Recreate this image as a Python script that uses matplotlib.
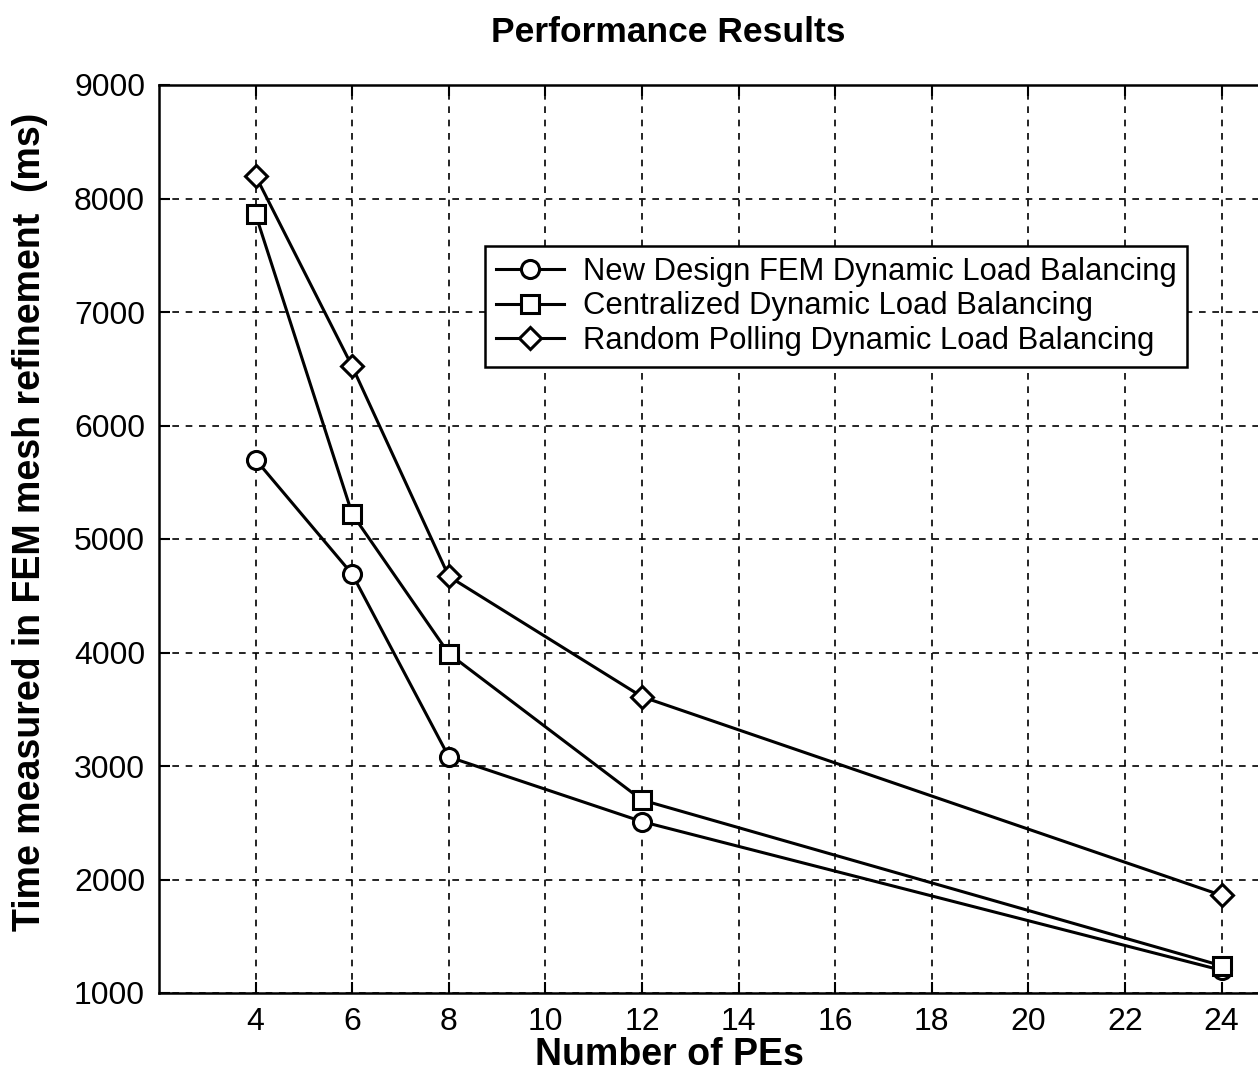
import matplotlib
matplotlib.use("Agg")
import matplotlib.pyplot as plt

pes = [4, 6, 8, 12, 24]
new_design = [5700, 4690, 3080, 2510, 1200]
centralized = [7860, 5220, 3990, 2700, 1240]
random_polling = [8200, 6520, 4670, 3610, 1860]
labels = ["New Design FEM Dynamic Load Balancing",
          "Centralized Dynamic Load Balancing",
          "Random Polling Dynamic Load Balancing"]
xticks = [4, 6, 8, 10, 12, 14, 16, 18, 20, 22, 24]
yticks = [1000, 2000, 3000, 4000, 5000, 6000, 7000, 8000, 9000]

plt.rcParams['font.family'] = ['Liberation Sans', 'DejaVu Sans']

fig = plt.figure(figsize=(12.58, 10.74), dpi=100)
ax = fig.add_axes([159/1258, 81/1074, 1111/1258, 908/1074])

ms = 13
ax.plot(pes, new_design, '-o', color='black', lw=2.2, ms=ms, mfc='white', mew=2.2, label=labels[0])
ax.plot(pes, centralized, '-s', color='black', lw=2.2, ms=ms, mfc='white', mew=2.2, label=labels[1])
ax.plot(pes, random_polling, '-D', color='black', lw=2.2, ms=ms*0.85, mfc='white', mew=2.2, label=labels[2])

ax.set_xlim(2, 25)
ax.set_ylim(1000, 9000)
ax.set_xticks(xticks)
ax.set_yticks(yticks)
ax.tick_params(direction='in', length=8, width=1.5, labelsize=23, pad=10, top=True, right=True)
ax.grid(True, linestyle=(0, (4, 4)), color='black', lw=1.2)
for s in ax.spines.values():
    s.set_linewidth(1.8)

fig.text(669/1258, 1 - 1055/1074, "Number of PEs", fontsize=27, fontweight='bold', ha='center', va='center')
fig.text(30/1258, 1 - 522/1074, "Time measured in FEM mesh refinement  (ms)", fontsize=27,
         fontweight='bold', ha='center', va='center', rotation=90)
fig.text(668/1258, 1 - 32/1074, "Performance Results", fontsize=25.5, fontweight='bold', ha='center', va='center')

leg = ax.legend(loc='upper left', bbox_to_anchor=(485/1258, 1 - 246/1074), bbox_transform=fig.transFigure,
                fontsize=22.3, frameon=True, fancybox=False, edgecolor='black', framealpha=1,
                handlelength=2.2, borderpad=0.35, labelspacing=0.15, handletextpad=0.6, borderaxespad=0)
leg.get_frame().set_linewidth(1.8)

fig.savefig("out.png", dpi=100)
